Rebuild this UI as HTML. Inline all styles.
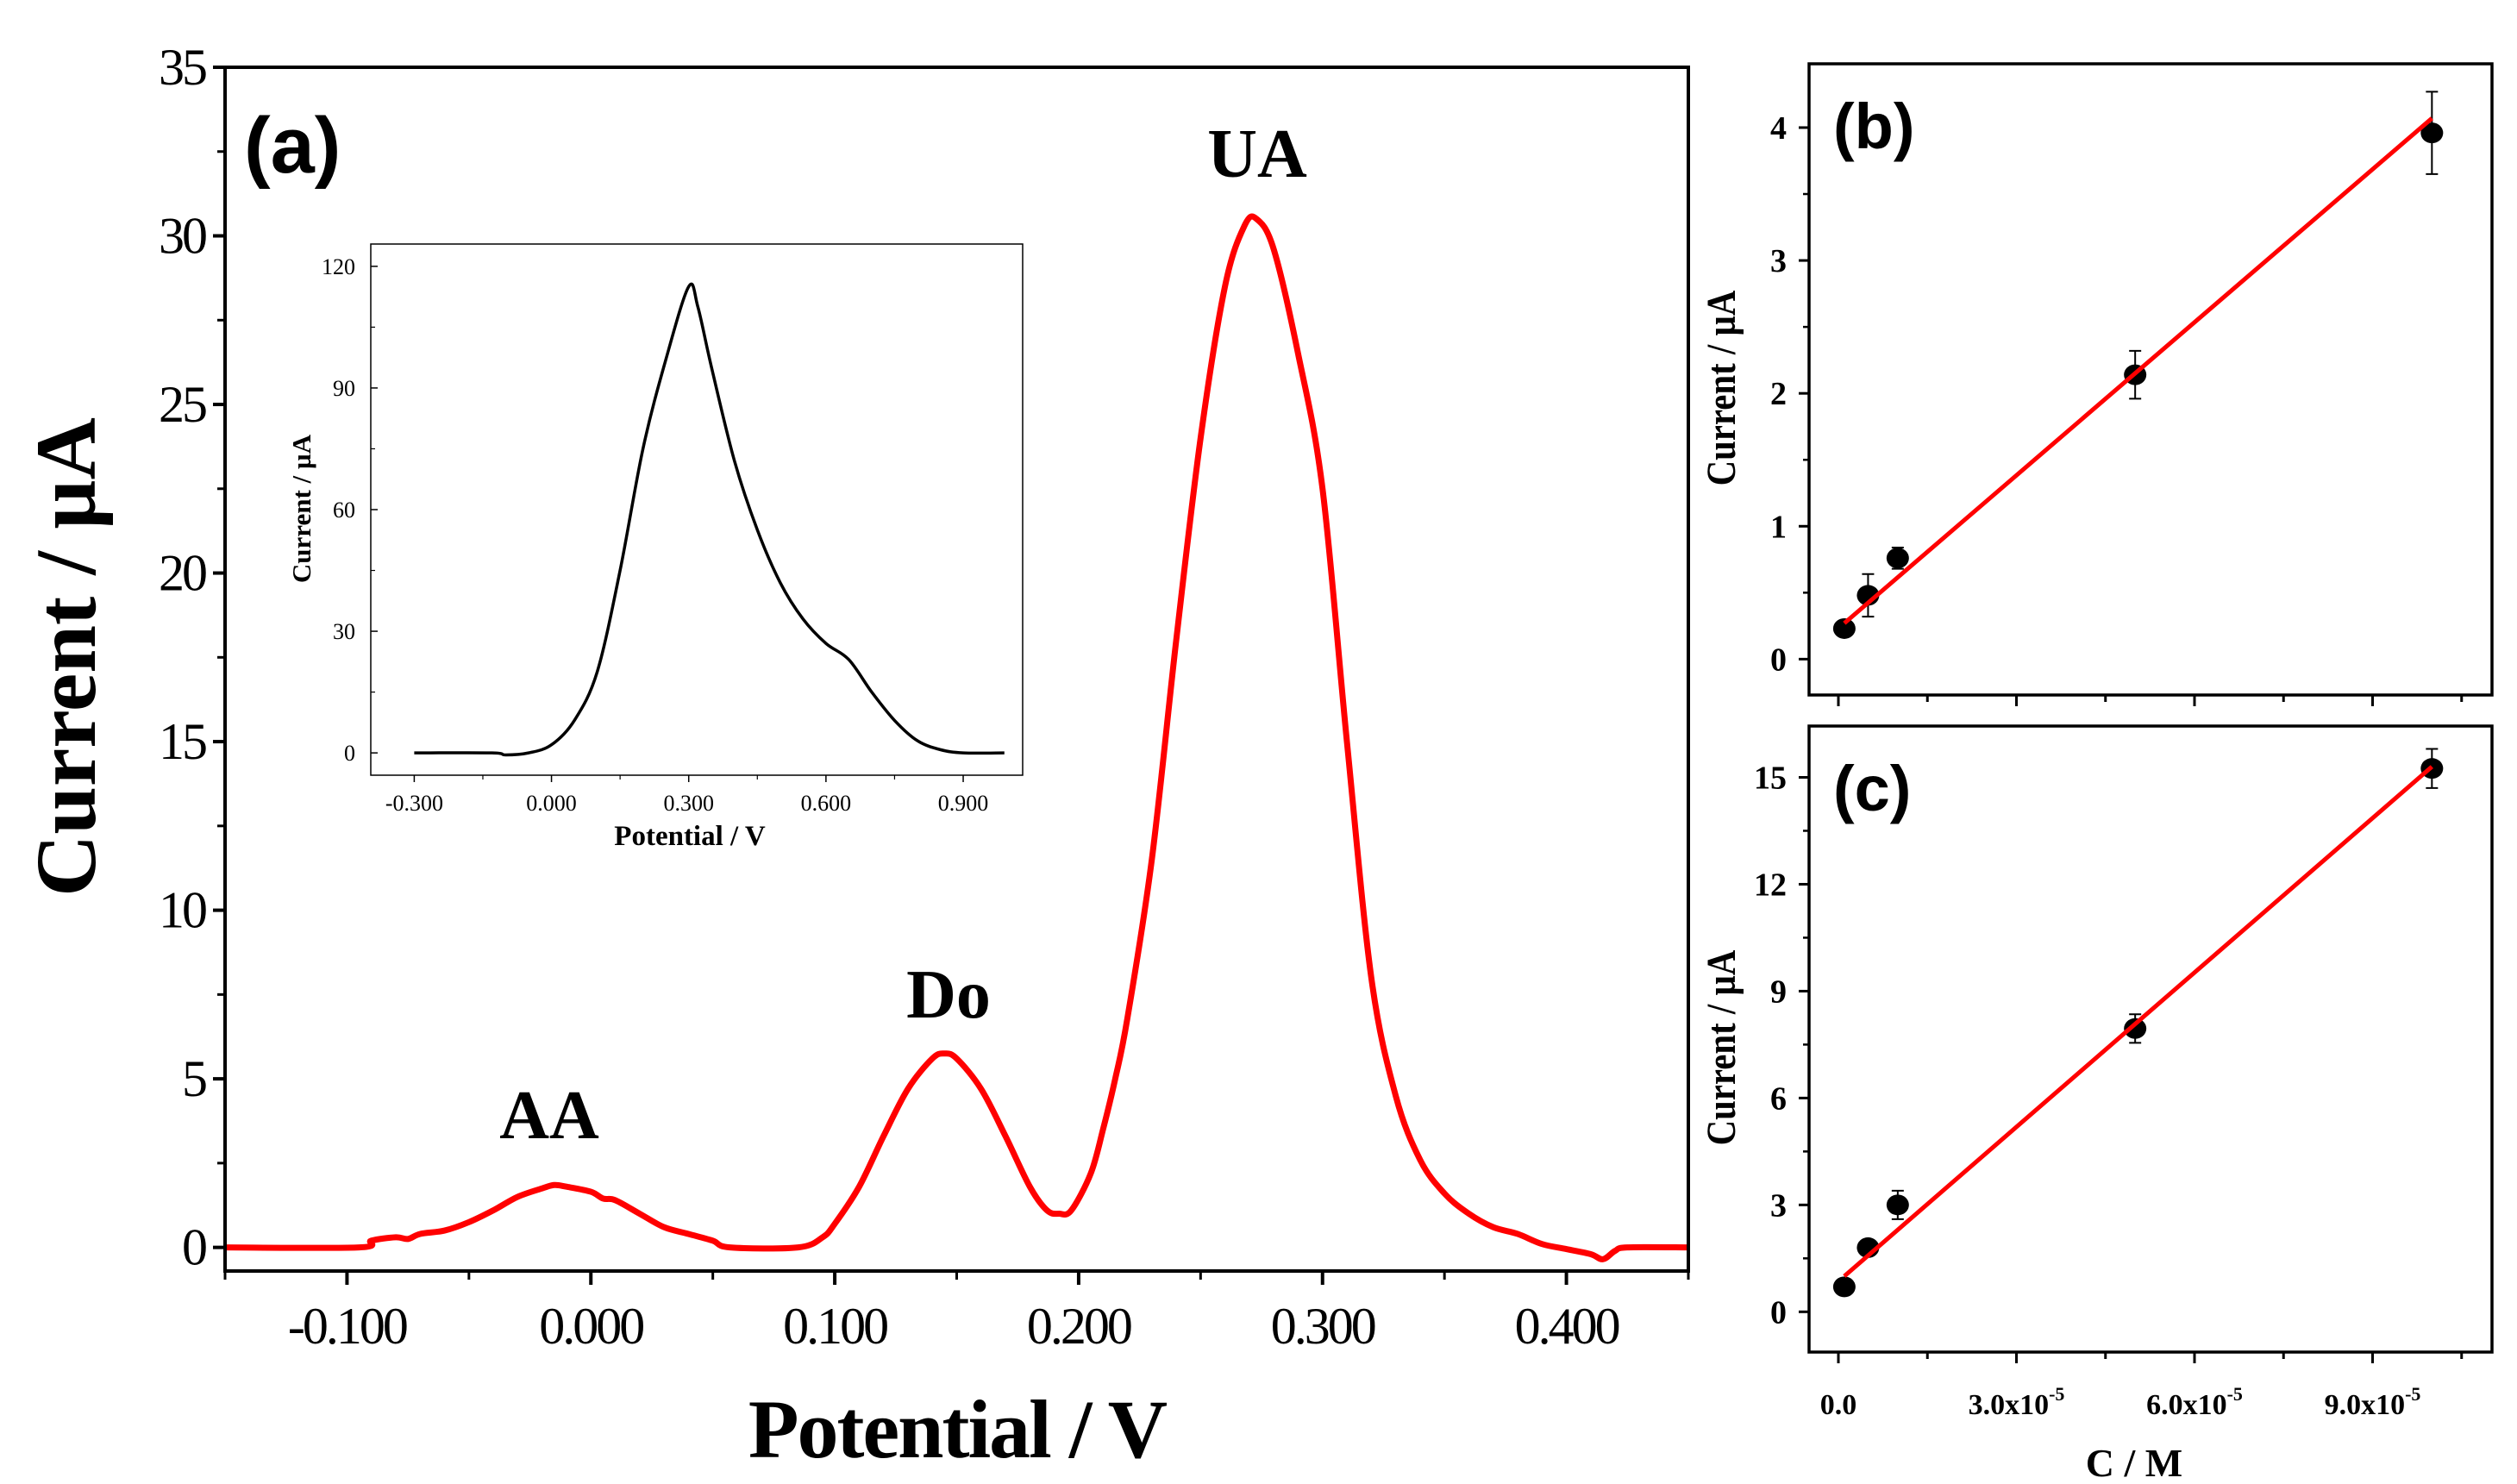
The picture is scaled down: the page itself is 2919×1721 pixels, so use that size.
<!DOCTYPE html>
<html><head><meta charset="utf-8"><style>
html,body{margin:0;padding:0;background:#fff;}
svg{display:block;}
text{font-family:"Liberation Serif",serif;fill:#000;}
text.sans{font-family:"Liberation Sans",sans-serif;}
</style></head><body>
<svg id="fig" width="2919" height="1721" viewBox="0 0 2919 1721" xmlns="http://www.w3.org/2000/svg"></svg>
<script>
// ---- main panel (a) data ----
const mainX=[-0.15,-0.095,-0.09,-0.08,-0.075,-0.07,-0.06,-0.05,-0.04,-0.03,-0.02,-0.015,-0.01,0,0.005,0.01,0.02,0.03,0.04,0.05,0.057,0.085,0.095,0.1,0.11,0.12,0.13,0.14,0.145,0.15,0.16,0.17,0.18,0.187,0.192,0.197,0.205,0.21,0.215,0.22,0.23,0.24,0.25,0.26,0.268,0.273,0.28,0.29,0.3,0.31,0.32,0.33,0.34,0.35,0.36,0.37,0.38,0.39,0.4,0.41,0.415,0.42,0.425,0.45];
const mainY=[0,0,0.2,0.3,0.25,0.4,0.5,0.75,1.1,1.5,1.75,1.85,1.8,1.65,1.45,1.4,1.0,0.6,0.4,0.2,0,0,0.3,0.7,1.8,3.3,4.7,5.6,5.75,5.6,4.7,3.3,1.8,1.1,1.0,1.1,2.2,3.5,5.0,6.8,11.5,18,24,28.5,30.3,30.5,29.6,26.5,22.5,15,8,4.5,2.6,1.6,1.0,0.6,0.4,0.1,-0.05,-0.2,-0.35,-0.1,0,0];
const mainXTicks=[-0.1,0,0.1,0.2,0.3,0.4];
const mainXLabels=["-0.100","0.000","0.100","0.200","0.300","0.400"];
const mainYTicks=[0,5,10,15,20,25,30,35];
// ---- inset data ----
const insetX=[-0.3,-0.13,-0.1,-0.05,0,0.05,0.1,0.15,0.2,0.25,0.3,0.32,0.35,0.4,0.45,0.5,0.55,0.6,0.65,0.7,0.75,0.8,0.85,0.9,0.99];
const insetY=[0,0,-0.5,0,2,8,20,45,75,97,115,110,95,72,55,42,33,27,23,15,8,3,0.8,0,0];
const insetXTicks=[-0.3,0,0.3,0.6,0.9];
const insetXLabels=["-0.300","0.000","0.300","0.600","0.900"];
const insetYTicks=[0,30,60,90,120];
// ---- panel b data ----
const concX=[1e-6,5e-6,1e-5,5e-5,1e-4];
const bY=[0.23,0.48,0.76,2.14,3.96];
const bErr=[0.03,0.16,0.08,0.18,0.31];
const bFit=[0.27,4.07];
const bYTicks=[0,1,2,3,4];
// ---- panel c data ----
const cY=[0.7,1.8,3.0,7.95,15.25];
const cErr=[0.1,0.15,0.4,0.4,0.55];
const cFit=[1.0,15.3];
const cYTicks=[0,3,6,9,12,15];
const cXTicks=[0,3e-5,6e-5,9e-5];
const cXLabels=["0.0","3.0x10","6.0x10","9.0x10"];

const NS="http://www.w3.org/2000/svg";
const svg=document.getElementById('fig');
function mk(tag,attrs,parent,txt){const e=document.createElementNS(NS,tag);for(const k in attrs)e.setAttribute(k,attrs[k]);if(txt!==undefined)e.textContent=txt;(parent||svg).appendChild(e);return e;}
function scale(d0,d1,r0,r1){return v=>r0+(v-d0)/(d1-d0)*(r1-r0);}
function smooth(p){let d=`M${p[0][0]},${p[0][1]}`;
  for(let i=0;i<p.length-1;i++){const p0=p[Math.max(0,i-1)],p1=p[i],p2=p[i+1],p3=p[Math.min(p.length-1,i+2)];
    const c1x=p1[0]+(p2[0]-p0[0])/6,c1y=p1[1]+(p2[1]-p0[1])/6,c2x=p2[0]-(p3[0]-p1[0])/6,c2y=p2[1]-(p3[1]-p1[1])/6;
    d+=`C${c1x},${c1y} ${c2x},${c2y} ${p2[0]},${p2[1]}`;}
  return d;}

// ===== Panel A =====
const ax=scale(-0.15,0.45,261,1958), ay=scale(-0.7,35,1474,78);
const gA=mk('g',{});


mainYTicks.forEach(v=>{
  const y=ay(v);
  const t=mk('line',{x1:247,x2:261,y1:y,y2:y,stroke:'#000','stroke-width':4},gA);
  
  const l=mk('text',{x:238,y:y+20,'font-size':60,'text-anchor':'end','letter-spacing':'-3'},gA,String(v));
  
  if(v<35){const ym=ay(v+2.5);mk('line',{x1:252,x2:261,y1:ym,y2:ym,stroke:'#000','stroke-width':3},gA);}
});
for(let v=-0.15;v<=0.451;v+=0.05){const x=ax(v);const major=Math.abs(Math.round(v*10)-v*10)<1e-6;
  mk('line',{x1:x,x2:x,y1:1474,y2:major?1490:1484,stroke:'#000','stroke-width':major?4:3},gA);}
mainXTicks.forEach((v,i)=>{
  const l=mk('text',{x:ax(v),y:1558,'font-size':60,'text-anchor':'middle','letter-spacing':'-3'},gA,mainXLabels[i]);
  
});
const lineA=mk('path',{d:smooth(mainX.map((x,i)=>[ax(x),ay(mainY[i])])),fill:'none',stroke:'#ff0000','stroke-width':7,'stroke-linejoin':'round'},gA);

const frA=mk('rect',{x:261,y:78,width:1697,height:1396,fill:'none',stroke:'#000','stroke-width':4},gA);

let e;
e=mk('text',{x:0,y:0,'font-size':100,'font-weight':'bold','text-anchor':'middle',transform:'translate(110,762) rotate(-90)'},gA,'Current / µA');

e=mk('text',{x:1110,y:1690,'font-size':96,'font-weight':'bold','text-anchor':'middle','letter-spacing':'-2'},gA,'Potential / V');

e=mk('text',{x:283,y:200,'font-size':92,'font-weight':'bold',class:'sans'},gA,'(a)');

[['UA',1458,205],['Do',1100,1180],['AA',637,1320]].forEach(p=>{
  const t=mk('text',{x:p[1],y:p[2],'font-size':80,'font-weight':'bold','text-anchor':'middle'},gA,p[0]);
  
});

// ===== Inset =====
const ix=scale(-0.395,1.03,430,1186), iy=scale(-5.5,125.5,899,283);
const gI=mk('g',{});


mk('rect',{x:430,y:283,width:756,height:616,fill:'#fff',stroke:'none'},gI);
insetYTicks.forEach(v=>{const y=iy(v);
  mk('line',{x1:430,x2:438,y1:y,y2:y,stroke:'#000','stroke-width':1.5},gI);
  if(v<120){const ym=iy(v+15);mk('line',{x1:430,x2:435,y1:ym,y2:ym,stroke:'#000','stroke-width':1.2},gI);}
  const t=mk('text',{x:412,y:y+9,'font-size':26,'text-anchor':'end'},gI,String(v));
  
});
insetXTicks.forEach((v,i)=>{const x=ix(v);
  mk('line',{x1:x,x2:x,y1:899,y2:907,stroke:'#000','stroke-width':1.5},gI);
  const xm=ix(v+0.15);if(v<0.9)mk('line',{x1:xm,x2:xm,y1:899,y2:904,stroke:'#000','stroke-width':1.2},gI);
  const t=mk('text',{x:x,y:940,'font-size':26,'text-anchor':'middle'},gI,insetXLabels[i]);
  
});
e=mk('path',{d:smooth(insetX.map((x,i)=>[ix(x),iy(insetY[i])])),fill:'none',stroke:'#000','stroke-width':3.5,'stroke-linejoin':'round'},gI);

mk('rect',{x:430,y:283,width:756,height:616,fill:'none',stroke:'#000','stroke-width':1.5},gI);
e=mk('text',{x:0,y:0,'font-size':31,'font-weight':'bold','text-anchor':'middle',transform:'translate(360,590) rotate(-90)'},gI,'Current / µA');

e=mk('text',{x:800,y:980,'font-size':33,'font-weight':'bold','text-anchor':'middle'},gI,'Potential / V');


// ===== Calibration panels =====
function calib(name,top,bottom,y0,y1,yTicks,yMinorStep,ys,errs,fit,lab,showX){
  const X0=2098,X1=2890;
  const sx=scale(0,3e-5,2132,2338.5), sy=scale(y0,y1,bottom,top);
  const g=mk('g',{});
  
  
  yTicks.forEach((v,i)=>{const y=sy(v);
    mk('line',{x1:X0-12,x2:X0,y1:y,y2:y,stroke:'#000','stroke-width':3},g);
    const ym=sy(v+yMinorStep);if(i<yTicks.length-1||ym>top)mk('line',{x1:X0-7,x2:X0,y1:ym,y2:ym,stroke:'#000','stroke-width':2.5},g);
    const t=mk('text',{x:X0-26,y:y+13,'font-size':38,'font-weight':'bold','text-anchor':'end'},g,String(v));
    
  });
  for(let k=0;k<=7;k++){const x=sx(k*1.5e-5);if(x>X1)break;
    mk('line',{x1:x,x2:x,y1:bottom,y2:bottom+(k%2?8:13),stroke:'#000','stroke-width':3},g);}
  if(showX){cXTicks.forEach((v,i)=>{const x=sx(v);
    const t=mk('text',{x:x,y:bottom+72,'font-size':34,'font-weight':'bold','text-anchor':'middle'},g);
    
    t.appendChild(document.createTextNode(cXLabels[i]));
    if(i>0){const s=document.createElementNS(NS,'tspan');s.setAttribute('font-size','22');s.setAttribute('dy','-16');s.textContent='-5';t.appendChild(s);}
  });}
  concX.forEach((c,i)=>{const x=sx(c),y=sy(ys[i]),eu=sy(ys[i]+errs[i]),ed=sy(ys[i]-errs[i]);
    const eb=mk('path',{d:`M${x},${eu}V${ed}M${x-7},${eu}H${x+7}M${x-7},${ed}H${x+7}`,stroke:'#000','stroke-width':2,fill:'none'},g);
    
    const p=mk('ellipse',{cx:x,cy:y,rx:13,ry:12,fill:'#000'},g);
    
  });
  const fl=mk('line',{x1:sx(concX[0]),y1:sy(fit[0]),x2:sx(concX[4]),y2:sy(fit[1]),stroke:'#ff0000','stroke-width':5},g);
  
  mk('rect',{x:X0,y:top,width:X1-X0,height:bottom-top,fill:'none',stroke:'#000','stroke-width':3.5},g);
  const yt=mk('text',{x:0,y:0,'font-size':48,'font-weight':'bold','text-anchor':'middle',transform:`translate(${X0-86},${(top+bottom)/2+10}) rotate(-90) scale(0.85,1)`},g,'Current / µA');
  
  const pl=mk('text',{x:2126,y:top+98,'font-size':74,'font-weight':'bold',class:'sans'},g,lab);
  
  return g;
}
calib('b',74,806,-0.27,4.48,bYTicks,0.5,bY,bErr,bFit,'(b)',false);
mk('rect',{x:2060,y:820,width:859,height:22,fill:'#fff'});
calib('c',842,1568,-1.13,16.44,cYTicks,1.5,cY,cErr,cFit,'(c)',true);
e=mk('text',{x:2475,y:1712,'font-size':46,'font-weight':'bold','text-anchor':'middle'},svg,'C / M');

</script>
</body></html>
